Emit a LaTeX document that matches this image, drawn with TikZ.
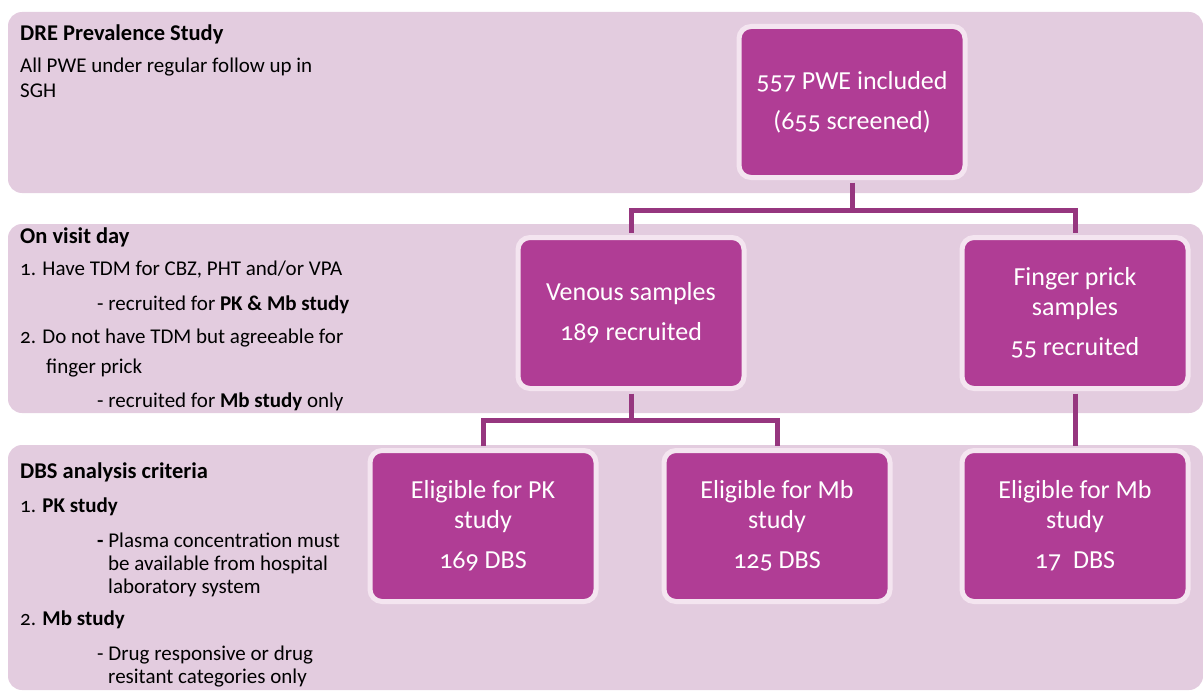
\documentclass[tikz,border=0pt]{standalone}
\usepackage{fontspec}
\setmainfont{Carlito}[Numbers=OldStyle]
\usetikzlibrary{positioning,calc}
\definecolor{bandpink}{HTML}{E3CCDF}
\definecolor{stagefill}{HTML}{B03D95}
\definecolor{stageedge}{HTML}{F4E5F0}
\definecolor{linkpurple}{HTML}{96367F}

\begin{document}
\begin{tikzpicture}[x=1pt,y=-1pt,
    band/.style={fill=bandpink,draw=none,rounded corners=14pt},
    stage/.style={fill=stagefill,draw=stageedge,line width=5pt,rounded corners=12pt,
      minimum width=226pt,minimum height=151pt,inner sep=0pt,align=center,
      text=white,font=\fontsize{26}{30}\selectfont},
    link/.style={draw=linkpurple,line width=5pt,shorten <=2.5pt,shorten >=2.5pt},
    lbl/.style={anchor=base west,inner sep=0pt,font=\fontsize{21}{24}\selectfont},
    head/.style={lbl,font=\fontsize{22.5}{26}\selectfont\bfseries}]
    \useasboundingbox (0,0) rectangle (1203,693);

    % Background bands (one per phase)
    \fill[band] (8,12) rectangle (1203,193);
    \fill[band] (8,224) rectangle (1203,413);
    \fill[band] (8,445) rectangle (1203,690);

    % Phase 1 text
    \node[head] (h1) at (20,41) {DRE Prevalence Study};
    \node[lbl] (h1a) at (20,73) {All PWE under regular follow up in};
    \node[lbl] (h1b) at (20,97) {SGH};

    % Phase 2 text
    \node[head] (h2) at (20,243) {On visit day};
    \node[lbl] (h2a) at (20,275) {1. Have TDM for CBZ, PHT and/or VPA};
    \node[lbl] (h2b) at (97,310) {- recruited for \textbf{PK \& Mb study}};
    \node[lbl] (h2c) at (20,343) {2. Do not have TDM but agreeable for};
    \node[lbl] (h2d) at (46,373) {finger prick};
    \node[lbl] (h2e) at (97,407) {- recruited for \textbf{Mb study} only};

    % Phase 3 text
    \node[head] (h3) at (20,478) {DBS analysis criteria};
    \node[lbl] (h3a) at (20,512) {1. \textbf{PK study}};
    \node[lbl] (h3b) at (97,547) {\textbf{-} Plasma concentration must};
    \node[lbl] (h3c) at (108,570) {be available from hospital};
    \node[lbl] (h3d) at (108,593) {laboratory system};
    \node[lbl] (h3e) at (20,625) {2. \textbf{Mb study}};
    \node[lbl] (h3f) at (97,660) {- Drug responsive or drug};
    \node[lbl] (h3g) at (108,683) {resitant categories only};

    % Flow boxes
    \node[stage] (incl) at (852,102) {557 PWE included\\[10pt](655 screened)};
    \node[stage] (venous) at (631,313) {Venous samples\\[10pt]189 recruited};
    \node[stage] (finger) at (1075,313) {Finger prick\\samples\\[10pt]55 recruited};
    \node[stage] (pk) at (483,526) {Eligible for PK\\study\\[10pt]169 DBS};
    \node[stage] (mbv) at (777,526) {Eligible for Mb\\study\\[10pt]125 DBS};
    \node[stage] (mbf) at (1075,526) {Eligible for Mb\\study\\[10pt]17~ DBS};

    % Connectors
    \coordinate (split1) at (852,210);
    \coordinate (split2) at (631,420);
    \draw[link] (incl.south) -- (split1);
    \draw[link] (venous.north) |- (split1) -| (finger.north);
    \draw[link] (venous.south) -- (split2);
    \draw[link] (pk.north) |- (split2) -| (mbv.north);
    \draw[link] (finger.south) -- (mbf.north);
\end{tikzpicture}
\end{document}
